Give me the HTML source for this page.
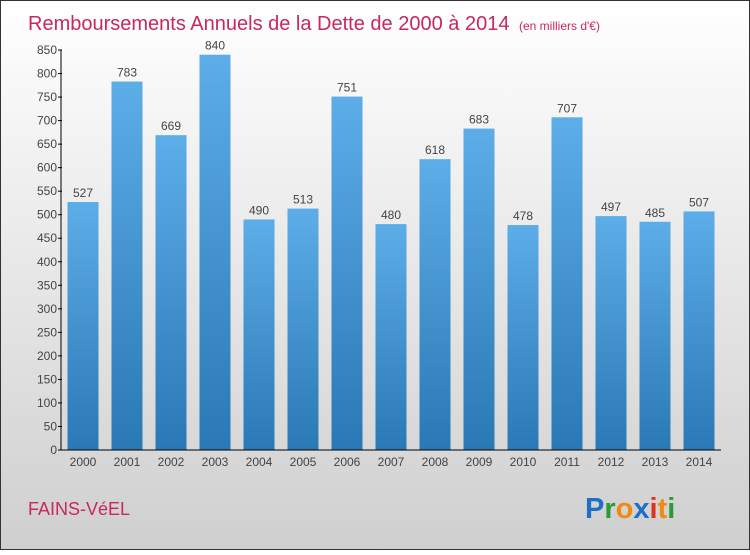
<!DOCTYPE html>
<html><head><meta charset="utf-8"><style>
body{margin:0;width:750px;height:550px;overflow:hidden;font-family:"Liberation Sans",sans-serif}
</style></head><body>
<svg width="750" height="550">
<defs>
<linearGradient id="bg" x1="0" y1="0" x2="0" y2="1"><stop offset="0" stop-color="#ffffff"/><stop offset="1" stop-color="#cfcfcf"/></linearGradient>
<linearGradient id="bar" x1="0" y1="0" x2="0" y2="1"><stop offset="0" stop-color="#5dade8"/><stop offset="1" stop-color="#2a78b5"/></linearGradient>
</defs>
<rect x="0.5" y="0.5" width="749" height="549" fill="url(#bg)" stroke="#333"/>
<text x="28" y="30" font-size="20" fill="#c8285a">Remboursements Annuels de la Dette de 2000 à 2014 <tspan font-size="12" dx="4">(en milliers d'€)</tspan></text>
<g id="plot"></g>
<text x="28" y="515" font-size="18" fill="#c8285a">FAINS-VéEL</text>
<text x="585" y="518" font-size="29" font-weight="bold"><tspan fill="#1e6fc8">P</tspan><tspan fill="#2a9a3a">r</tspan><tspan fill="#f08a10">o</tspan><tspan fill="#1e6fc8">x</tspan><tspan fill="#e03020">i</tspan><tspan fill="#f08a10">t</tspan><tspan fill="#2a9a3a">i</tspan></text>
</svg>
<script>
const years=["2000","2001","2002","2003","2004","2005","2006","2007","2008","2009","2010","2011","2012","2013","2014"];
const values=[527,783,669,840,490,513,751,480,618,683,478,707,497,485,507];
const ticks=[0,50,100,150,200,250,300,350,400,450,500,550,600,650,700,750,800,850];
const NS="http://www.w3.org/2000/svg";
const g=document.getElementById('plot');
const x0=61,x1=721,y0=450,yTop=50,max=850,band=(x1-x0)/years.length;
const y=v=>y0-(v/max)*(y0-yTop);
function mk(t,a,txt){const e=document.createElementNS(NS,t);for(const k in a)e.setAttribute(k,a[k]);if(txt!==undefined)e.textContent=txt;g.appendChild(e);return e;}
values.forEach((v,i)=>{
 const bx=x0+band*i+6.5;
 const r=mk('rect',{x:bx,y:y(v),width:31,height:y0-y(v),fill:'url(#bar)'});
 
 
 const l=mk('text',{x:bx+15.5,y:y(v)-5,'font-size':12,fill:'#444','text-anchor':'middle'},String(v));
 
 
 const xl=mk('text',{x:bx+15.5,y:y0+16,'font-size':12,fill:'#444','text-anchor':'middle'},years[i]);
 
 
});
ticks.forEach(t=>{
 const tk=mk('line',{x1:x0-3,x2:x0+1,y1:y(t),y2:y(t),stroke:'#000'});
 
 
 const tl=mk('text',{x:x0-4,y:y(t)+4,'font-size':12,fill:'#444','text-anchor':'end'},String(t));
 
 
});
const ya=mk('line',{x1:x0,x2:x0,y1:yTop,y2:y0,stroke:'#000'});


const xa=mk('line',{x1:x0,x2:x1,y1:y0,y2:y0,stroke:'#000'});


</script>
</body></html>
